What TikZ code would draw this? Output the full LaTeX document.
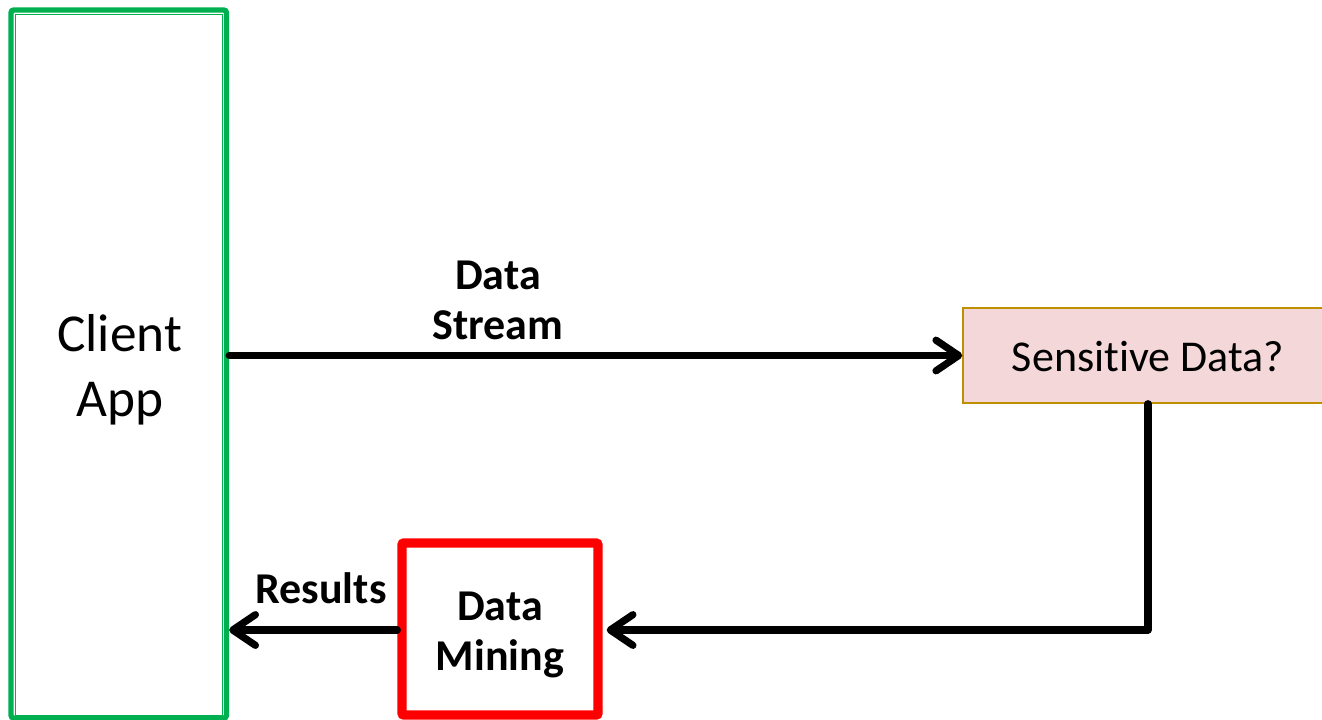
\documentclass[tikz,border=0pt]{standalone}
\usepackage{fontspec}
\setmainfont{Carlito}[Ligatures={NoCommon}]
\usetikzlibrary{arrows.meta,calc}
\definecolor{appgreen}{RGB}{0,176,80}
\definecolor{alertred}{RGB}{255,0,0}
\definecolor{softpink}{RGB}{244,215,217}
\definecolor{goldline}{RGB}{191,143,0}
\tikzset{
  flow/.style={line width=5.4pt, line cap=round, line join=round,
    -{Straight Barb[length=17pt,width=23pt,round]}},
  lbl/.style={font=\fontsize{33}{37.5}\selectfont\bfseries, align=center, inner sep=0pt},
  frame/.style={inner sep=0pt},
}
\begin{document}
\begin{tikzpicture}[x=0.75pt,y=-0.75pt]
\useasboundingbox (0,0) rectangle (1322,719);
\clip (0,0) rectangle (1322,719);

% client application column with a double green frame
\node[frame, draw=appgreen, line width=4pt, rounded corners=2pt,
      minimum width=161.6pt, minimum height=531pt]
  (client) at (118.75,364) {};
\draw[appgreen, line width=1.2pt]
  ($(client.north west)+(7,7)$) rectangle ($(client.south east)+(-6.5,-5)$);
\node[frame, font=\fontsize{40}{48.75}\selectfont, align=center]
  (clienttxt) at ($(client.center)+(1,6)$) {Client\\App};

% inspection step
\node[frame, draw=goldline, fill=softpink, line width=1.1pt,
      minimum width=277.5pt, minimum height=71.25pt]
  (check) at (1148,355.5) {};
\node[frame, font=\fontsize{33}{38}\selectfont]
  (checktxt) at ($(check.center)+(0,1)$) {Sensitive Data?};

% mining step
\node[frame, draw=alertred, line width=7pt, rounded corners=1.5pt,
      minimum width=147pt, minimum height=129pt]
  (mine) at (500,629) {};
\node[lbl] (minetxt) at ($(mine.center)+(0,6)$) {Data\\Mining};

% connectors
\coordinate (streamstart) at (client.east |- check.west);
\coordinate (minein) at ($(mine.east |- 0,630)+(4,0)$);
\coordinate (corner) at (check.south |- minein);
\draw[flow] (streamstart) -- (check.west);
\draw[flow] (check.south) -- (corner) -- (minein);
\coordinate (mineout) at (mine.west |- minein);
\draw[flow] (mineout) -- (client.east |- mineout);

% connector labels
\node[lbl] (streamlbl) at (498,300) {Data\\Stream};
\node[lbl] (resultlbl) at (321,588) {Results};
\end{tikzpicture}
\end{document}
